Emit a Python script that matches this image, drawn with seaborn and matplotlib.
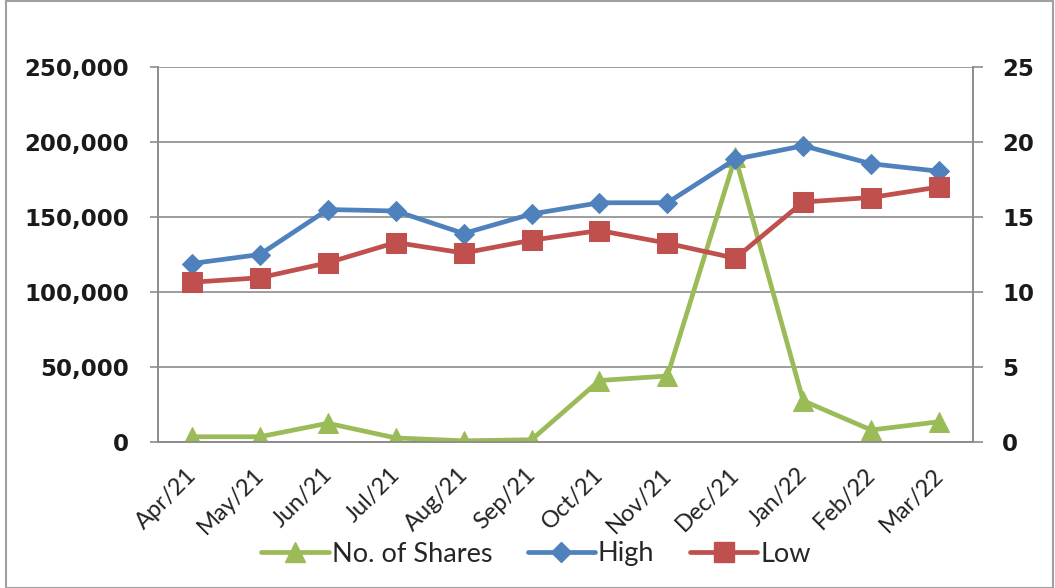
import numpy as np
import pandas as pd
import matplotlib
matplotlib.use("Agg")
import matplotlib.pyplot as plt
from matplotlib.patches import Rectangle
from matplotlib.lines import Line2D
from matplotlib.ticker import FuncFormatter, FixedLocator
import seaborn as sns

months = ["Apr/21", "May/21", "Jun/21", "Jul/21", "Aug/21", "Sep/21",
          "Oct/21", "Nov/21", "Dec/21", "Jan/22", "Feb/22", "Mar/22"]
shares = [3500, 3500, 12500, 2700, 800, 1500, 41000, 44000, 190000, 27500, 8000, 13500]
high = [11.9, 12.5, 15.5, 15.4, 13.9, 15.2, 15.95, 15.95, 18.85, 19.75, 18.55, 18.05]
low = [10.65, 10.95, 11.95, 13.3, 12.6, 13.45, 14.1, 13.25, 12.25, 16.0, 16.3, 17.0]

sns.set_style("white")
plt.rcParams['font.family'] = ['DejaVu Sans']

GREEN = "#9BBB59"
BLUE = "#4F81BD"
RED = "#C0504D"
GRID = "#8C8C8C"

pos = np.arange(len(months))
df = pd.DataFrame({"pos": pos, "shares": shares, "high": high, "low": low})

L, R, T, B = 158, 973, 67, 442
fig = plt.figure(figsize=(10.55, 5.88), dpi=100)
ax = fig.add_axes([L/1055, 1-B/588, (R-L)/1055, (B-T)/588])
ax2 = ax.twinx()

sns.lineplot(data=df, x="pos", y="shares", ax=ax, color=GREEN, lw=3.4,
             marker="^", markersize=14, markeredgecolor=GREEN, zorder=3)
sns.lineplot(data=df, x="pos", y="high", ax=ax2, color=BLUE, lw=3.4,
             marker="D", markersize=10.5, markeredgecolor=BLUE, zorder=3)
sns.lineplot(data=df, x="pos", y="low", ax=ax2, color=RED, lw=3.4,
             marker="s", markersize=14, markeredgecolor=RED, zorder=3)

ax.set_ylim(0, 250000)
ax2.set_ylim(0, 25)
ax.set_xlim(-0.5, len(months) - 0.5)
ax.set_yticks(np.arange(0, 250001, 50000))
ax2.set_yticks(np.arange(0, 26, 5))
ax.yaxis.set_major_formatter(FuncFormatter(lambda v, p: f"{int(v):,}"))
ax.grid(axis="y", color=GRID, lw=1.2)
ax.set_axisbelow(True)

# label anchors sit slightly left of category centres (rotated text)
ax.set_xticks(pos - 0.1)
ax.set_xticklabels(months, rotation=45, ha="right", va="top", rotation_mode="anchor",
                   fontsize=17, family="Lato", color="#222222")
ax.xaxis.set_minor_locator(FixedLocator(np.arange(-0.5, len(months), 1)))
ax.tick_params(axis="x", which="major", length=0, pad=16)
ax.tick_params(axis="x", which="minor", length=7, color=GRID, width=1.2, direction="out")
ax.tick_params(axis="y", length=6, color=GRID, width=1.2, direction="out",
               labelsize=16.5, labelcolor="#1a1a1a", pad=15)
ax2.tick_params(axis="y", length=7, color=GRID, width=1.2, direction="out",
                labelsize=16.5, labelcolor="#1a1a1a", pad=14)
for lab in ax.get_yticklabels() + ax2.get_yticklabels():
    lab.set_fontweight("bold")
for a in (ax, ax2):
    a.set_xlabel("")
    a.set_ylabel("")
    a.spines["top"].set_visible(False)
    for s in ("left", "right", "bottom"):
        a.spines[s].set_color(GRID)
        a.spines[s].set_linewidth(1.2)
if ax.get_legend():
    ax.get_legend().remove()

handles = [
    Line2D([], [], color=GREEN, lw=3.4, marker="^", markersize=14, markeredgecolor=GREEN),
    Line2D([], [], color=BLUE, lw=3.4, marker="D", markersize=10.5, markeredgecolor=BLUE),
    Line2D([], [], color=RED, lw=3.4, marker="s", markersize=14, markeredgecolor=RED),
]
fig.legend(handles, ["No. of Shares", "High", "Low"], loc="center",
           bbox_to_anchor=(536/1055, 1-554/588), ncol=3, frameon=False,
           prop={"family": "Lato", "size": 19.5}, handlelength=2.5,
           columnspacing=1.3, handletextpad=0.1)

fig.patches.append(Rectangle((0.006, 0.0), 0.992, 0.999, transform=fig.transFigure,
                             fill=False, edgecolor="#A0A0A0", lw=1.5))

fig.savefig("out.png", dpi=100)
